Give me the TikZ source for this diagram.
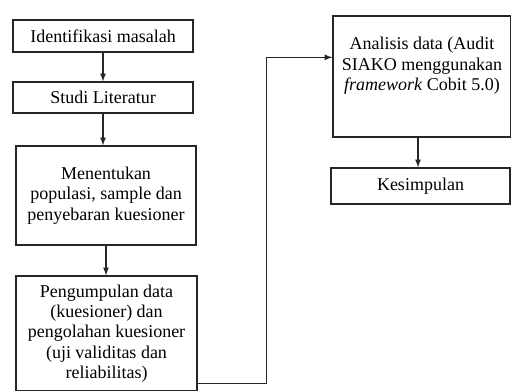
\documentclass[tikz,border=0pt]{standalone}
\usepackage{fontspec}
\setmainfont{Liberation Serif}
\usetikzlibrary{arrows}
\usetikzlibrary{positioning}

\tikzset{
  boxtext/.style={align=center, font=\fontsize{13.5}{15.3}\selectfont},
  box/.style={boxtext, draw=black!85, line width=1pt, rectangle, inner sep=2pt},
  flow/.style={-latex, line width=1pt, draw=black!85}
}

\begin{document}
\begin{tikzpicture}[x=0.75pt, y=-0.75pt]
  \useasboundingbox (0,0) rectangle (511,390);
  \clip (0,0) rectangle (511,390);

  % left column
  \node[box, minimum width=135pt, minimum height=24pt] (idm) at (103,36) {Identifikasi masalah};
  \node[box, minimum width=135pt, minimum height=23.25pt] (studi) at (103,97.5) {Studi Literatur};
  \node[box, minimum width=135pt, minimum height=74.25pt] (populasi) at (106,195.5)
    {Menentukan\\ populasi, sample dan\\ penyebaran kuesioner};
  \node[box, minimum width=135.75pt, minimum height=86.25pt] (kumpul) at (106.5,333.5)
    {Pengumpulan data\\ (kuesioner) dan\\ pengolahan kuesioner\\ (uji validitas dan\\ reliabilitas)};

  % right column
  \node[box, minimum width=133.5pt, minimum height=90.75pt,
        label={[boxtext, anchor=north, yshift=-13pt]north:{Analisis data (Audit\\ SIAKO menggunakan\\ \emph{framework} Cobit 5.0)}}]
    (analisis) at (422,76.5) {};
  \node[box, minimum width=134.25pt, minimum height=27pt] (kesimpulan) at (420.5,186) {Kesimpulan};

  \draw[flow] (idm.south) -- (idm.south |- studi.north);
  \draw[flow] (studi.south) -- (studi.south |- populasi.north);
  \draw[flow] (populasi.south) -- (populasi.south |- kumpul.north);
  \draw[flow] ([yshift=6pt]kumpul.south east) -- ++(69,0) |- ([yshift=-31.5pt]analisis.north west);
  \draw[flow] ([xshift=-3pt]analisis.south) -- ([xshift=-3pt]analisis.south |- kesimpulan.north);
\end{tikzpicture}
\end{document}
